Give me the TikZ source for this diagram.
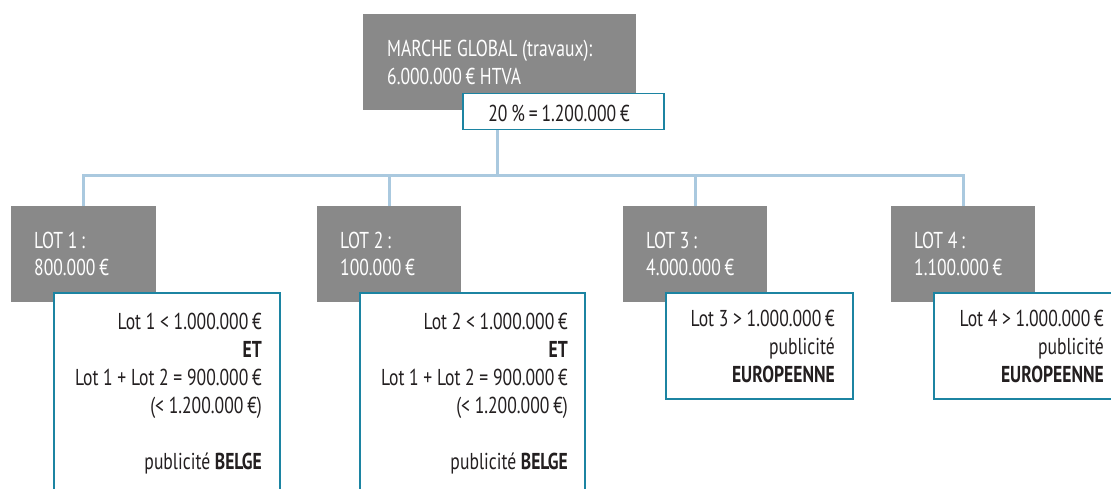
\documentclass[tikz,border=0pt]{standalone}
\usepackage{fontspec}
\setmainfont{PT Sans}[FakeStretch=0.765]
\definecolor{boxgray}{RGB}{137,137,137}
\definecolor{tealline}{RGB}{28,132,162}
\definecolor{connblue}{RGB}{170,201,223}
\definecolor{textdark}{RGB}{35,31,32}
\begin{document}
\begin{tikzpicture}[x=1pt,y=-1pt,
  graybox/.style={fill=boxgray, draw=none, inner sep=0pt, anchor=north west},
  tealbox/.style={fill=white, draw=tealline, line width=1.5pt, inner sep=0pt, anchor=north west},
  conn/.style={draw=connblue, line width=3pt},
  wtxt/.style={text=white, font=\fontsize{23}{27.5}\selectfont, align=left, inner sep=0pt, anchor=base west},
  dtxt/.style={text=textdark, font=\fontsize{23}{28}\selectfont, align=right, inner sep=0pt, anchor=base east}]
\useasboundingbox (0,0) rectangle (1111,489);
\clip (0,0) rectangle (1111,489);
% boxes (positions)
\node[graybox, minimum width=273, minimum height=96] (top) at (363,14) {};
\node[tealbox, minimum width=201, minimum height=36] (pct) at (462,93) {};
\node[graybox, minimum width=145, minimum height=96] (g1) at (11,206) {};
\node[graybox, minimum width=144, minimum height=96] (g2) at (317,206) {};
\node[graybox, minimum width=144, minimum height=96] (g3) at (623,206) {};
\node[graybox, minimum width=144, minimum height=96] (g4) at (891,206) {};
% connectors
\coordinate (jn) at (497,176);
\draw[conn] (pct.south -| jn) -- (jn);
\draw[conn] (g1.north) |- (jn) -| (g4.north);
\draw[conn] (g2.north) -- (g2.north |- jn);
\draw[conn] (g3.north) -- (g3.north |- jn);
% white boxes
\node[tealbox, minimum width=226, minimum height=230] (w1) at (53,292) {};
\node[tealbox, minimum width=225, minimum height=230] (w2) at (359,292) {};
\node[tealbox, minimum width=187, minimum height=106] (w3) at (665,292) {};
\node[tealbox, minimum width=200, minimum height=106] (w4) at (933,292) {};
% texts (anchor base = baseline of the last line)
\node[wtxt] (ttop) at (387,84.5) {MARCHE GLOBAL (travaux):\\6.000.000\,€ HTVA};
\node[dtxt, anchor=base, align=center] (tpct) at (559,122) {20\,\%\,=\,1.200.000\,€};
\node[wtxt] (tg1) at (34,275.5) {LOT 1\,:\\800.000\,€};
\node[wtxt] (tg2) at (340,275.5) {LOT 2\,:\\100.000\,€};
\node[wtxt] (tg3) at (646,275.5) {LOT 3\,:\\4.000.000\,€};
\node[wtxt] (tg4) at (914,275.5) {LOT 4\,:\\1.100.000\,€};
\node[dtxt] (tw1) at (262,469) {Lot 1 < 1.000.000\,€\\\textbf{ET}\\Lot 1 + Lot 2 = 900.000\,€\\(< 1.200.000\,€)\\[28pt]publicité \textbf{BELGE}};
\node[dtxt] (tw2) at (568,469) {Lot 2 < 1.000.000\,€\\\textbf{ET}\\Lot 1 + Lot 2 = 900.000\,€\\(< 1.200.000\,€)\\[28pt]publicité \textbf{BELGE}};
\node[dtxt] (tw3) at (835,382) {Lot 3 > 1.000.000\,€\\publicité\\\textbf{EUROPEENNE}};
\node[dtxt] (tw4) at (1104,382) {Lot 4 > 1.000.000\,€\\publicité\\\textbf{EUROPEENNE}};
\end{tikzpicture}
\end{document}
